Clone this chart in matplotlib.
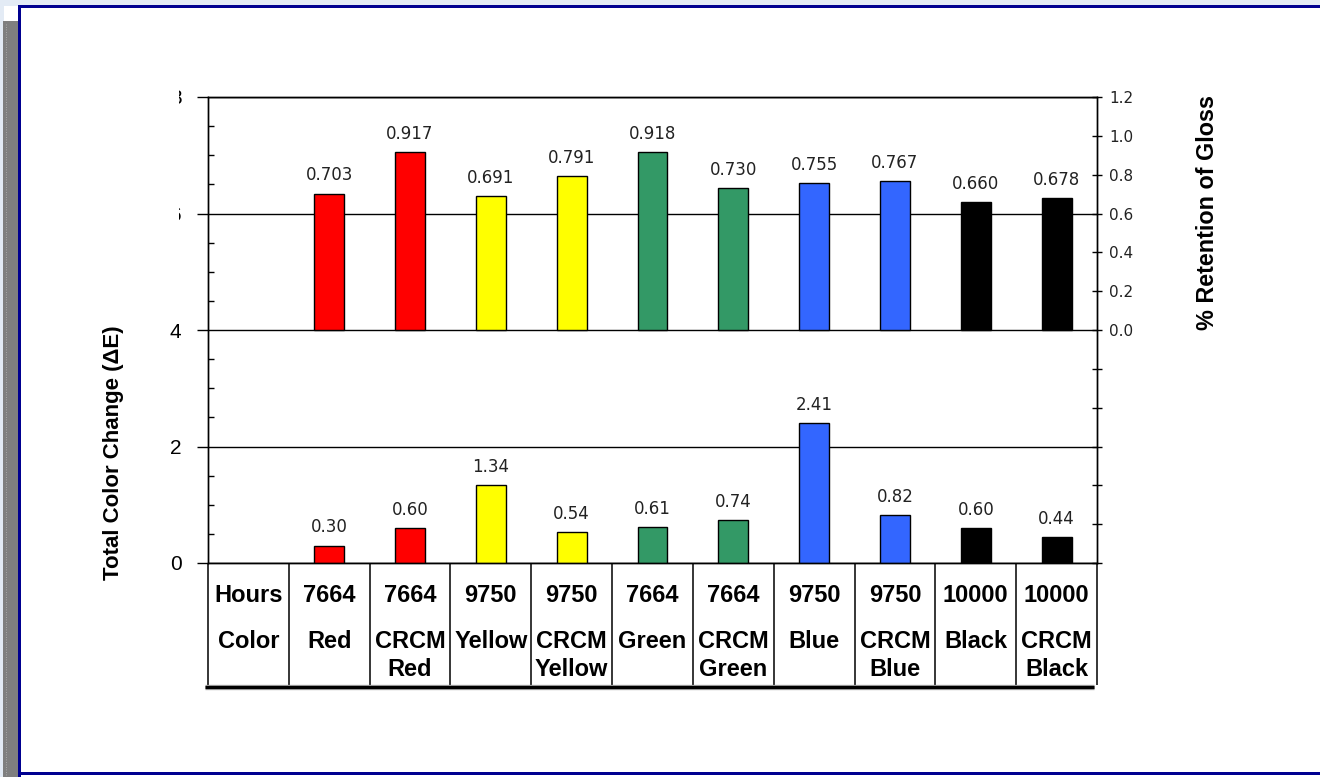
import matplotlib
matplotlib.use("Agg")
import matplotlib.pyplot as plt
import matplotlib.transforms as mtransforms
from matplotlib.patches import Rectangle
from matplotlib.ticker import FixedLocator, MultipleLocator, FuncFormatter
import numpy as np

# ---- data -------------------------------------------------------------
hours = ["7664", "7664", "9750", "9750", "7664", "7664",
         "9750", "9750", "10000", "10000"]
color_names = ["Red", "CRCM\nRed", "Yellow", "CRCM\nYellow", "Green",
               "CRCM\nGreen", "Blue", "CRCM\nBlue", "Black", "CRCM\nBlack"]
gloss_retention = [0.703, 0.917, 0.691, 0.791, 0.918,
                   0.730, 0.755, 0.767, 0.660, 0.678]
color_change = [0.30, 0.60, 1.34, 0.54, 0.61,
                0.74, 2.41, 0.82, 0.60, 0.44]
bar_colors = ["#FF0000", "#FF0000", "#FFFF00", "#FFFF00", "#339966",
              "#339966", "#3366FF", "#3366FF", "#000000", "#000000"]
left_ticks = [0, 2, 4, 6, 8]
right_ticks = [-1.2, -1.0, -0.8, -0.6, -0.4, -0.2, 0.0,
               0.2, 0.4, 0.6, 0.8, 1.0, 1.2]

plt.rcParams["font.family"] = ["Liberation Sans", "DejaVu Sans"]

W, H = 1320, 777
fig = plt.figure(figsize=(W / 100, H / 100), dpi=100)
fig.patch.set_facecolor("white")

# ---- slide frame (pixel coordinates) ----------------------------------
bg = fig.add_axes([0, 0, 1, 1], zorder=-10)
bg.set_xlim(0, W)
bg.set_ylim(H, 0)
bg.axis("off")
bg.add_patch(Rectangle((0, 0), W, 6, color="#E3EBF5", lw=0))
bg.add_patch(Rectangle((0, 0), 4, H, color="#E3EBF5", lw=0))
bg.add_patch(Rectangle((3, 21), 15, H - 21, color="#7F7F7F", lw=0))
bg.plot([5.5, 5.5], [24, H], color="#B8B8B8", lw=0.6, ls=(0, (1, 2)))
navy = "#000090"
bg.add_patch(Rectangle((18, 5), W - 18, 3, color=navy, lw=0))
bg.add_patch(Rectangle((18, 5), 3, H - 5, color=navy, lw=0))
bg.add_patch(Rectangle((18, 772), W - 18, 3, color=navy, lw=0))

# ---- chart axes -------------------------------------------------------
ax_l, ax_r, ax_t, ax_b = 208, 1097, 97, 563
ax = fig.add_axes([ax_l / W, 1 - ax_b / H, (ax_r - ax_l) / W, (ax_b - ax_t) / H])
ax.set_facecolor("white")
x = np.arange(1, len(hours) + 1)
ax.set_xlim(-0.5, len(hours) + 0.5)
ax.set_ylim(0, 8)
ax.set_axisbelow(True)
for s in ax.spines.values():
    s.set_linewidth(1.0)
    s.set_color("black")

ax.yaxis.set_major_locator(FixedLocator(left_ticks))
ax.yaxis.set_minor_locator(MultipleLocator(0.5))
ax.yaxis.set_major_formatter(FuncFormatter(lambda v, p: f"{v:.0f}"))
ax.tick_params(axis="y", which="major", direction="out", length=8, width=1,
               labelsize=15, pad=11)
ax.tick_params(axis="y", which="minor", direction="in", length=4.3, width=1)
ax.tick_params(axis="x", which="both", bottom=False, labelbottom=False)
ax.yaxis.grid(True, which="major", color="black", lw=1.0)

bar_w = 0.37
ax.bar(x, color_change, width=bar_w, color=bar_colors, edgecolor="black",
       linewidth=1.0, zorder=3)
for xi, v in zip(x, color_change):
    ax.annotate(f"{v:.2f}", (xi, v), xytext=(0, 6.5), textcoords="offset points",
                ha="center", va="bottom", fontsize=12, color="#222222",
                family="DejaVu Sans")

ax2 = ax.twinx()
ax2.set_ylim(-1.2, 1.2)
ax2.yaxis.set_major_locator(FixedLocator(right_ticks))
ax2.yaxis.set_major_formatter(
    FuncFormatter(lambda v, p: f"{v:.1f}" if v > -0.05 else ""))
ax2.tick_params(axis="y", direction="inout", length=7.2, width=1,
                labelsize=11, pad=5, labelcolor="#222222")
for lab in ax2.get_yticklabels():
    lab.set_family("DejaVu Sans")
for s in ax2.spines.values():
    s.set_linewidth(1.0)
ax2.bar(x, gloss_retention, width=bar_w, color=bar_colors, edgecolor="black",
        linewidth=1.0, zorder=3)
for xi, v in zip(x, gloss_retention):
    ax2.annotate(f"{v:.3f}", (xi, v), xytext=(0, 6.5), textcoords="offset points",
                 ha="center", va="bottom", fontsize=12, color="#222222",
                 family="DejaVu Sans")

# ---- axis titles ------------------------------------------------------
fig.text(113 / W, 1 - 453 / H, "Total Color Change (\u0394E)", rotation=90,
         ha="center", va="center", fontsize=16, fontweight="bold")
fig.text(1208 / W, 1 - 213 / H, "% Retention of Gloss", rotation=90,
         ha="center", va="center", fontsize=16.8, fontweight="bold")

# the upper left tick labels sit mostly under a white panel
fig.add_artist(Rectangle((140 / W, 1 - 232 / H), (179 - 140) / W, (232 - 84) / H,
                         transform=fig.transFigure, facecolor="white",
                         edgecolor="none", zorder=5))

# ---- data table under the axis ----------------------------------------
trans = mtransforms.blended_transform_factory(ax.transData, ax.transAxes)
ax_h = ax_b - ax_t


def yfrac(py):
    return (ax_b - py) / ax_h


tbl_bottom = yfrac(685)
for i in range(len(hours) + 2):
    ax.plot([i - 0.5, i - 0.5], [0, tbl_bottom], transform=trans, color="black",
            lw=1.1, clip_on=False, solid_capstyle="butt")

row_y = [yfrac(596), yfrac(641), yfrac(670)]
cell_kw = dict(ha="center", va="center", fontsize=17, fontweight="bold",
               transform=trans, clip_on=False)
ax.text(0, row_y[0], "Hours", **cell_kw)
ax.text(0, row_y[1], "Color", **cell_kw)
for xi, hrs, name in zip(x, hours, color_names):
    ax.text(xi, row_y[0], hrs, **cell_kw)
    for k, line in enumerate(name.split("\n")):
        ax.text(xi, row_y[1 + k], line, **cell_kw)

y_rule = yfrac(687)
x0, x1 = (205 - ax_l) / (ax_r - ax_l), (1094 - ax_l) / (ax_r - ax_l)
ax.plot([x0, x1], [y_rule, y_rule], transform=ax.transAxes, color="#9A9A9A",
        lw=3.8, clip_on=False, solid_capstyle="butt")
ax.plot([x0, x1], [y_rule, y_rule], transform=ax.transAxes, color="black",
        lw=2.2, clip_on=False, solid_capstyle="butt")

fig.savefig("out.png", dpi=100)
